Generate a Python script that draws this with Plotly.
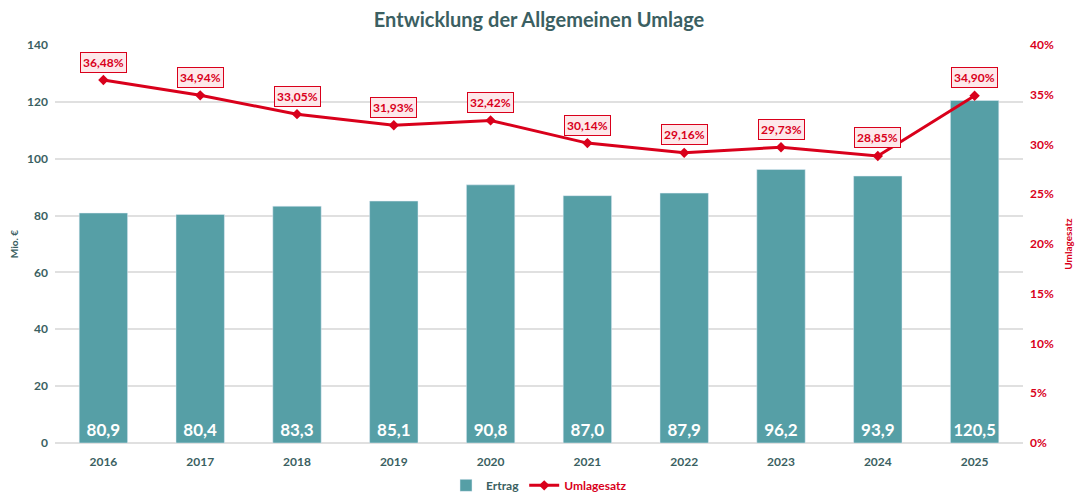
import plotly.graph_objects as go

years = ["2016", "2017", "2018", "2019", "2020", "2021", "2022", "2023", "2024", "2025"]
ertrag = [80.9, 80.4, 83.3, 85.1, 90.8, 87.0, 87.9, 96.2, 93.9, 120.5]
umlagesatz = [36.48, 34.94, 33.05, 31.93, 32.42, 30.14, 29.16, 29.73, 28.85, 34.90]

ertrag_labels = [f"<b>{v:.1f}</b>".replace(".", ",") for v in ertrag]
satz_labels = [f"{v:.2f}".replace(".", ",") + "%" for v in umlagesatz]

TEAL = "#569fa6"
RED = "#d9001b"
DARK = "#3b5f62"
FONT = "Lato"

fig = go.Figure()
fig.add_trace(go.Bar(
    x=years, y=ertrag, name="<b>Ertrag</b>", marker_color=TEAL,
    text=ertrag_labels, textposition="inside", insidetextanchor="start",
    textfont=dict(color="white", size=17, family=FONT), textangle=0,
    hoverinfo="skip",
))
fig.add_trace(go.Scatter(
    x=years, y=umlagesatz, name=f"<b><span style='color:{RED}'>Umlagesatz</span></b>",
    yaxis="y2", mode="lines+markers",
    line=dict(color=RED, width=3), marker=dict(symbol="diamond", size=8, color=RED),
    hoverinfo="skip",
))

for i, (v, t) in enumerate(zip(umlagesatz, satz_labels)):
    fig.add_annotation(
        x=i, y=v, xref="x", yref="y2", text=f"<b>{t}</b>", showarrow=False, yshift=18,
        font=dict(color=RED, size=12, family=FONT), bgcolor="#fde8ea",
        bordercolor=RED, borderwidth=1, borderpad=2,
    )

fig.update_layout(
    width=1078, height=493,
    margin=dict(l=55, r=55, t=45, b=50, autoexpand=False),
    paper_bgcolor="white", plot_bgcolor="white",
    title=dict(text="<b>Entwicklung der Allgemeinen Umlage</b>", x=0.5, y=0.96,
               xanchor="center", yanchor="middle",
               font=dict(size=20, color=DARK, family=FONT)),
    font=dict(family=FONT),
    bargap=0.5,
    xaxis=dict(type="category", categoryorder="array", categoryarray=years,
               range=[-0.5, len(years) - 0.5],
               tickfont=dict(size=12, color=DARK, family=FONT, weight="bold"),
               ticklabelstandoff=10,
               showgrid=False, showline=False, ticks=""),
    yaxis=dict(range=[0, 140], dtick=20, gridcolor="#e0e0e0", gridwidth=2,
               zeroline=True, zerolinecolor="#e0e0e0", zerolinewidth=2,
               tickfont=dict(size=12, color=DARK, family=FONT, weight="bold"),
               ticklabelstandoff=6,
               title=dict(text="<b>Mio. €</b>", font=dict(size=10, color=DARK), standoff=6)),
    yaxis2=dict(range=[0, 40], dtick=5, overlaying="y", side="right", showgrid=False,
                ticksuffix="%", zeroline=False,
                tickfont=dict(size=12, color=RED, family=FONT, weight="bold"),
                ticklabelstandoff=6,
                title=dict(text="<b>Umlagesatz</b>", font=dict(size=10, color=RED), standoff=12)),
    legend=dict(orientation="h", x=0.5, xanchor="center", y=-0.07, yanchor="top",
                bgcolor="rgba(0,0,0,0)", tracegroupgap=0,
                font=dict(size=12, color=DARK, family=FONT)),
)

fig.write_html("out.html", config={"displayModeBar": False},
               post_script="document.body.style.margin='0';")
